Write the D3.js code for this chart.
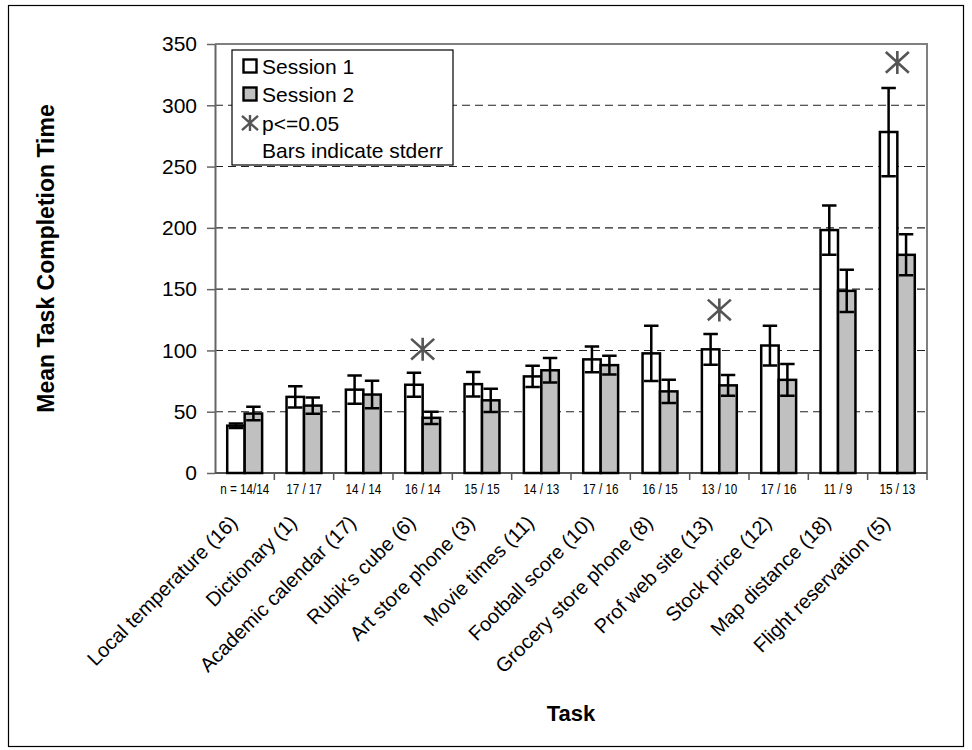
<!DOCTYPE html>
<html>
<head>
<meta charset="utf-8">
<script src="https://cdn.jsdelivr.net/npm/d3@7/dist/d3.min.js"></script>
<style>
  html, body { margin: 0; padding: 0; background: #fff; }
  svg { display: block; font-family: "Liberation Sans", Arial, sans-serif; }
</style>
</head>
<body>
<svg id="chart" width="972" height="750"></svg>
<script>
// Tasks, in the order shown along the x axis
const categories = [
  "Local temperature (16)", "Dictionary (1)", "Academic calendar (17)",
  "Rubik's cube (6)", "Art store phone (3)", "Movie times (11)",
  "Football score (10)", "Grocery store phone (8)", "Prof web site (13)",
  "Stock price (12)", "Map distance (18)", "Flight reservation (5)"
];

// Mean completion time and standard error per session
const session1 = [38.6, 62.1, 68, 72, 72.5, 78.8, 92.7, 97.6, 100.9, 104, 198.2, 278.2];
const stderr1  = [1.8, 8.6, 11.5, 9.7, 10, 8.7, 10.6, 22.6, 12.5, 16.2, 20.1, 36];
const session2 = [48.5, 55, 64, 45, 59.3, 83.8, 88, 66.6, 71.5, 76, 148.6, 178];
const stderr2  = [5.5, 6.6, 11.2, 5, 9.5, 10, 7.7, 9.5, 8.5, 13, 17.3, 16.7];

// Height of the p<=0.05 marker (null where the difference is not significant)
const significant = [null, null, null, 101, null, null, null, null, 133, null, null, 335];

// Participants per session
const n1 = [14, 17, 14, 16, 15, 14, 17, 16, 13, 17, 11, 15];
const n2 = [14, 17, 14, 14, 15, 13, 16, 15, 10, 16, 9, 13];

const yTicks = [0, 50, 100, 150, 200, 250, 300, 350];
const seriesNames = ["Session 1", "Session 2"];
const seriesFill = ["#ffffff", "#c0c0c0"];

const svg = d3.select("#chart");

// outer frame
svg.append("rect")
  .attr("x", 8.5).attr("y", 5.5).attr("width", 955).attr("height", 741)
  .attr("fill", "none").attr("stroke", "#000").attr("stroke-width", 1.2);

const plot = { left: 215, right: 927, top: 44, bottom: 473 };

const y = d3.scaleLinear().domain([0, 350]).range([plot.bottom, plot.top]);
const x0 = d3.scaleBand().domain(categories).range([plot.left, plot.right]).padding(0);
const x1 = d3.scaleBand().domain([0, 1]).range([0, x0.bandwidth()])
  .paddingInner(0).paddingOuter(0.7);

// dashed gridlines
svg.append("g").selectAll("line")
  .data(yTicks.filter(t => t > 0 && t < 350))
  .join("line")
  .attr("x1", plot.left).attr("x2", plot.right)
  .attr("y1", d => y(d)).attr("y2", d => y(d))
  .attr("stroke", "#222").attr("stroke-width", 1.1)
  .attr("stroke-dasharray", "8,5");

// plot frame (top and right)
svg.append("path")
  .attr("d", `M${plot.left},${plot.top}H${plot.right}V${plot.bottom}`)
  .attr("fill", "none").attr("stroke", "#808080").attr("stroke-width", 2);

// y axis
const yAxis = svg.append("g")
  .attr("transform", `translate(${plot.left},0)`)
  .call(d3.axisLeft(y).tickValues(yTicks).tickSize(8).tickPadding(10).tickSizeOuter(0));
yAxis.select(".domain").attr("stroke", "#666").attr("stroke-width", 2);
yAxis.selectAll(".tick line").attr("stroke", "#666").attr("stroke-width", 1.5);
yAxis.selectAll(".tick text")
  .attr("font-size", 21).attr("fill", "#000")
  .attr("font-family", "'Liberation Sans', Arial, sans-serif");

// x axis with ticks at category boundaries
const xAxisG = svg.append("g").attr("transform", `translate(0,${plot.bottom})`);
xAxisG.append("line")
  .attr("x1", plot.left).attr("x2", plot.right)
  .attr("stroke", "#555").attr("stroke-width", 2);
xAxisG.selectAll("line.bound")
  .data(categories)
  .join("line")
  .attr("class", "bound")
  .attr("x1", d => x0(d) + x0.bandwidth()).attr("x2", d => x0(d) + x0.bandwidth())
  .attr("y1", 0).attr("y2", 7)
  .attr("stroke", "#555").attr("stroke-width", 1.5);

// n labels under each group
const nLabels = categories.map((c, i) => i === 0 ? `n = ${n1[i]}/${n2[i]}` : `${n1[i]} / ${n2[i]}`);
svg.append("g").selectAll("text")
  .data(categories)
  .join("text")
  .attr("transform", (d) => `translate(${x0(d) + x0.bandwidth() / 2},494) scale(0.78,1)`)
  .attr("text-anchor", "middle")
  .attr("font-size", 15)
  .text((d, i) => nLabels[i]);

// category labels, rotated
svg.append("g").selectAll("text")
  .data(categories)
  .join("text")
  .attr("transform", d => `translate(${x0(d) + x0.bandwidth() / 2 - 6},524) rotate(-45)`)
  .attr("text-anchor", "end")
  .attr("font-size", 20)
  .text(d => d);

// bars and error bars
const rows = categories.map((c, i) => ({
  cat: c,
  vals: [
    { s: 0, v: session1[i], e: stderr1[i] },
    { s: 1, v: session2[i], e: stderr2[i] }
  ]
}));

const groups = svg.append("g").selectAll("g")
  .data(rows)
  .join("g")
  .attr("transform", d => `translate(${x0(d.cat)},0)`);

const bw = x1.bandwidth();
groups.selectAll("rect")
  .data(d => d.vals)
  .join("rect")
  .attr("x", d => x1(d.s))
  .attr("y", d => y(d.v))
  .attr("width", bw)
  .attr("height", d => y(0) - y(d.v))
  .attr("fill", d => seriesFill[d.s])
  .attr("stroke", "#000")
  .attr("stroke-width", 2.5);

const cap = bw - 3;
const eb = groups.selectAll("g.err")
  .data(d => d.vals)
  .join("g")
  .attr("class", "err");
eb.append("path")
  .attr("d", d => {
    const cx = x1(d.s) + bw / 2;
    const hi = y(d.v + d.e), lo = y(d.v - d.e);
    return `M${cx},${hi}V${lo}M${cx - cap / 2},${hi}H${cx + cap / 2}M${cx - cap / 2},${lo}H${cx + cap / 2}`;
  })
  .attr("fill", "none").attr("stroke", "#000").attr("stroke-width", 2.5);

// asterisk marker: a vertical stroke crossed by an X
function asterisk(sel, r, w) {
  const dx = r, dy = r * 0.9;
  sel.append("path")
    .attr("d", `M0,${-r}V${r}M${-dx},${-dy}L${dx},${dy}M${-dx},${dy}L${dx},${-dy}`)
    .attr("fill", "none").attr("stroke", "#555").attr("stroke-width", w);
}

svg.append("g").selectAll("g")
  .data(categories.map((c, i) => ({ cat: c, v: significant[i] })).filter(d => d.v !== null))
  .join("g")
  .attr("transform", d => `translate(${x0(d.cat) + x0.bandwidth() / 2},${y(d.v)})`)
  .each(function () { asterisk(d3.select(this), 11.5, 2.6); });

// axis titles
svg.append("text")
  .attr("x", (plot.left + plot.right) / 2).attr("y", 721)
  .attr("text-anchor", "middle").attr("font-size", 22).attr("font-weight", "bold")
  .text("Task");
svg.append("text")
  .attr("transform", `translate(54,${(plot.top + plot.bottom) / 2}) rotate(-90)`)
  .attr("text-anchor", "middle").attr("font-size", 23).attr("font-weight", "bold")
  .text("Mean Task Completion Time");

// legend
const legend = svg.append("g").attr("transform", "translate(232,50)");
legend.append("rect")
  .attr("x", 0).attr("y", 0).attr("width", 221).attr("height", 115)
  .attr("fill", "#fff").attr("stroke", "#000").attr("stroke-width", 1.2);
const rowY = [16, 44, 73, 100];
seriesNames.forEach((name, i) => {
  legend.append("rect")
    .attr("x", 11.5).attr("y", rowY[i] - 6.5).attr("width", 13).attr("height", 13)
    .attr("fill", seriesFill[i]).attr("stroke", "#000").attr("stroke-width", 2.4);
  legend.append("text")
    .attr("x", 30).attr("y", rowY[i] + 7.5).attr("font-size", 21).text(name);
});
asterisk(legend.append("g").attr("transform", `translate(18,${rowY[2]})`), 8, 2.4);
legend.append("text").attr("x", 30).attr("y", rowY[2] + 7.5).attr("font-size", 21).text("p<=0.05");
legend.append("text").attr("x", 30).attr("y", rowY[3] + 7.5).attr("font-size", 21).text("Bars indicate stderr");
</script>
</body>
</html>
